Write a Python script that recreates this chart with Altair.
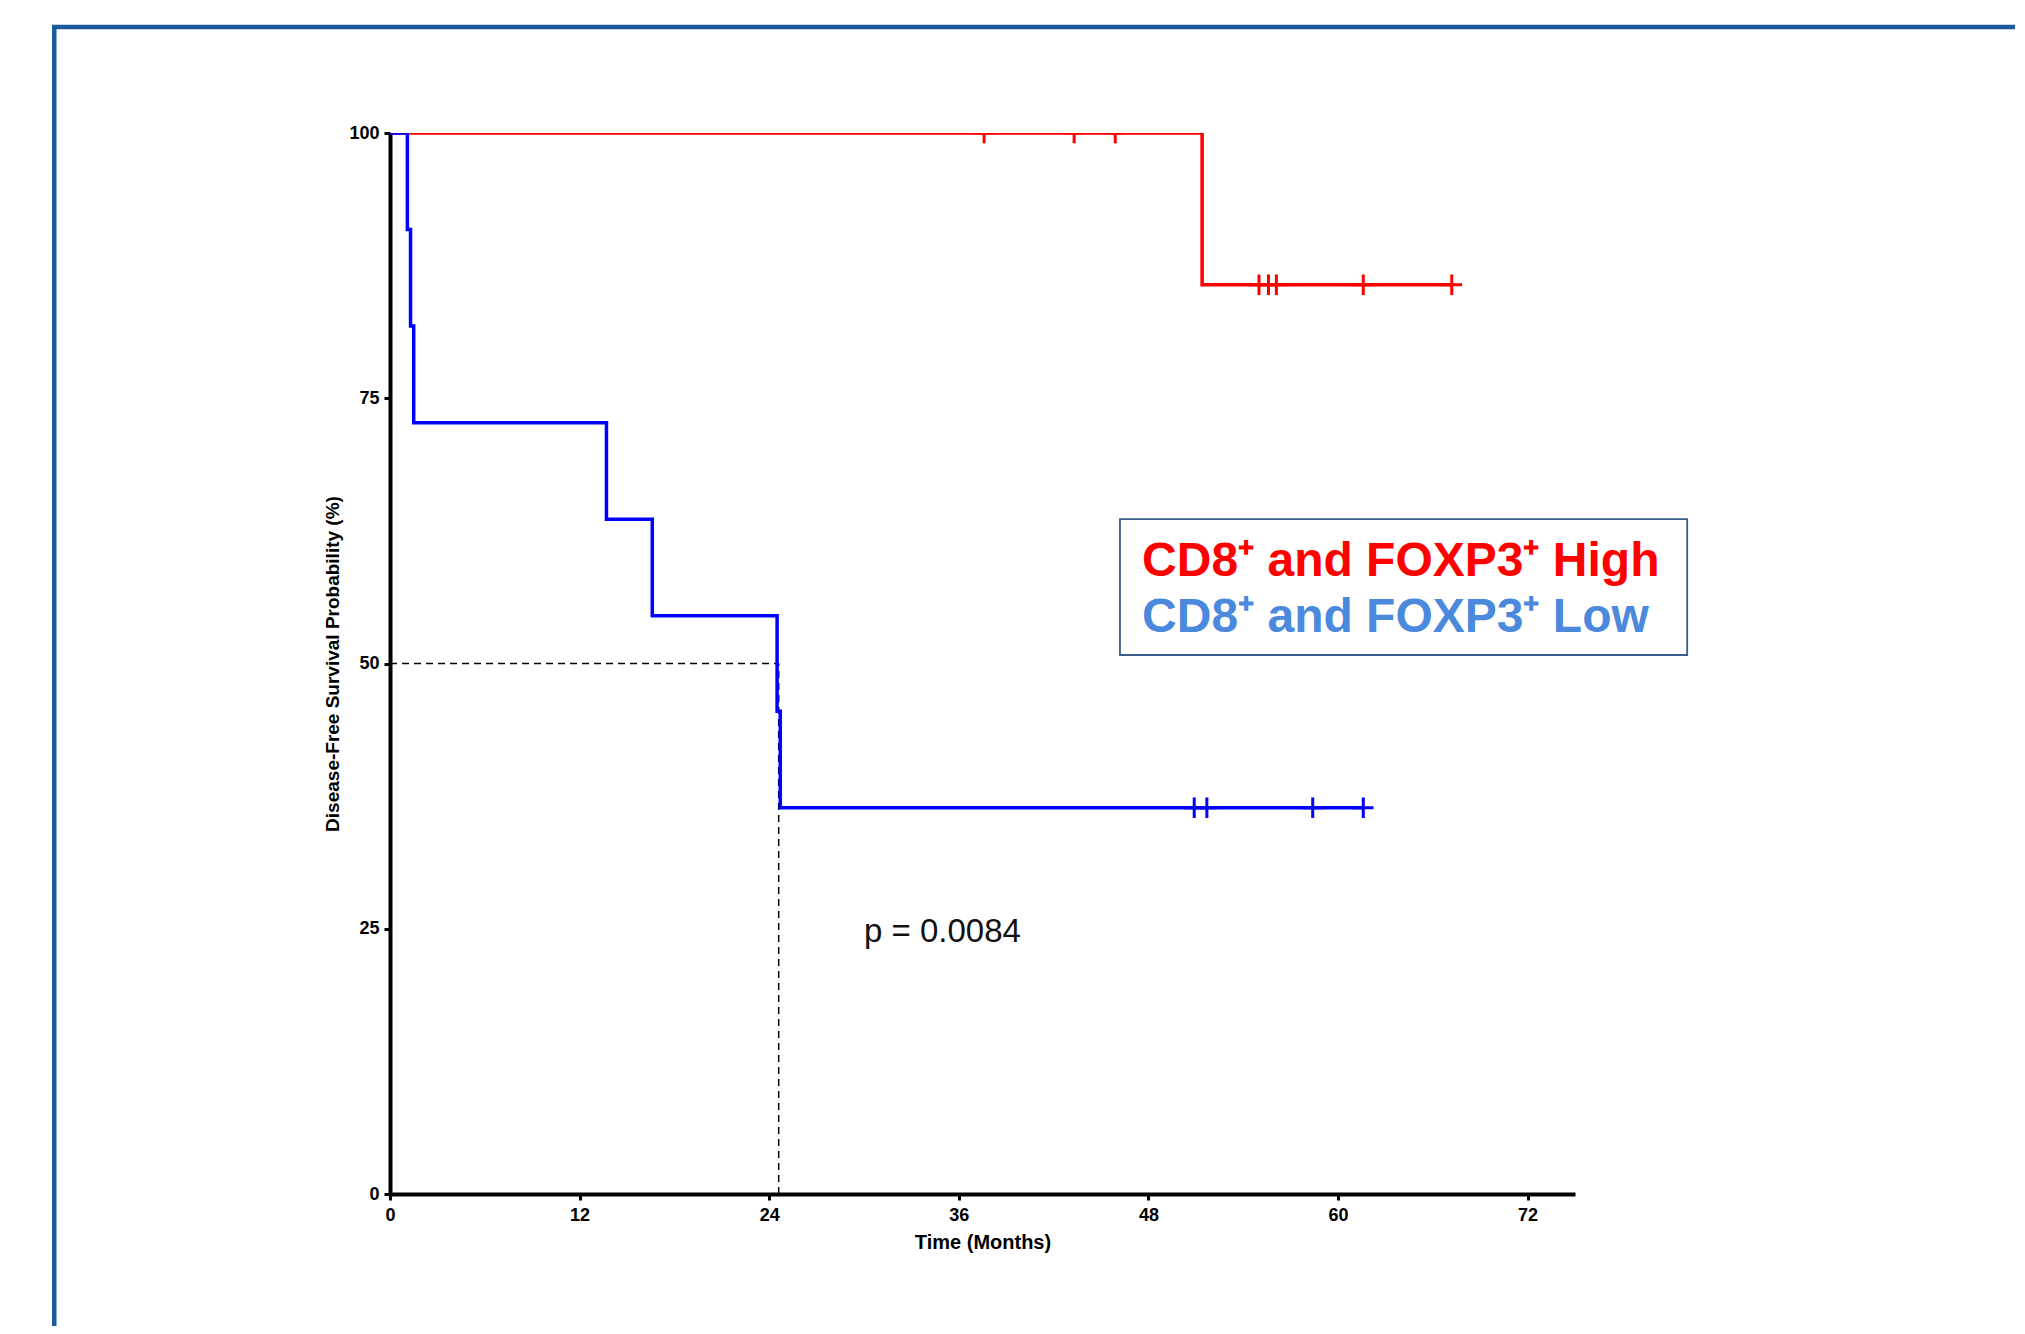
import altair as alt
import pandas as pd

# ---------------- data ----------------
# Kaplan-Meier step curves: event times (months) and survival (%)
high_time = [0, 51.4, 67.2]
high_surv = [100, 85.7, 85.7]
low_time = [0, 1.1, 1.3, 1.5, 13.7, 16.6, 24.5, 24.7, 61.6]
low_surv = [100, 90.9, 81.8, 72.7, 63.6, 54.5, 45.5, 36.4, 36.4]

# censored observations (+ marks)
high_cens_time = [37.6, 43.3, 45.9, 55.0, 55.6, 56.1, 61.6, 67.2]
high_cens_surv = [100, 100, 100, 85.7, 85.7, 85.7, 85.7, 85.7]
low_cens_time = [50.9, 51.7, 58.4, 61.6]
low_cens_surv = [36.4, 36.4, 36.4, 36.4]

# median survival of the Low group
median_time = 24.6
median_surv = 50

x_ticks = [0, 12, 24, 36, 48, 60, 72]
y_ticks = [0, 25, 50, 75, 100]

legend_labels = ["CD8⁺ and FOXP3⁺ High", "CD8⁺ and FOXP3⁺ Low"]
p_label = "p = 0.0084"
x_title = "Time (Months)"
y_title = "Disease-Free Survival Probability (%)"

# ---------------- annotation placement (data units) ----------------
LEGEND_BOX = dict(t=46.2, t2=82.1, s=63.6, s2=50.8)
LEGEND_TEXT_X = 47.6
LEGEND_TEXT_Y = [59.6, 54.3]
P_POS = dict(t=30.0, s=24.7)
FRAME = dict(t=-21.25, t2=200, s=110.0, s2=-30)

# ---------------- styles ----------------
RED = "#ff0000"
BLUE = "#0000ff"
LEGEND_RED = "#ff0000"
LEGEND_BLUE = "#4a89dc"
FRAME_COLOR = "#1a5a9c"
BOX_COLOR = "#385d8a"
FONT = "Liberation Sans"
CROSS = "M-1,0L1,0M0,-1L0,1"

X_SCALE = alt.Scale(domain=[0, 75], nice=False, zero=False)
Y_SCALE = alt.Scale(domain=[0, 100], nice=False, zero=False)

x_axis = alt.Axis(values=x_ticks, title=x_title, grid=False, labelFlush=False,
                  titlePadding=8, labelPadding=6)
y_axis = alt.Axis(values=y_ticks, title=y_title, grid=False, labelFlush=False,
                  titlePadding=6, labelPadding=5)


def X(field="t"):
    return alt.X(f"{field}:Q", scale=X_SCALE, axis=x_axis)


def Y(field="s"):
    return alt.Y(f"{field}:Q", scale=Y_SCALE, axis=y_axis)


high_df = pd.DataFrame({"t": high_time, "s": high_surv})
low_df = pd.DataFrame({"t": low_time, "s": low_surv})
high_c = pd.DataFrame({"t": high_cens_time, "s": high_cens_surv})
low_c = pd.DataFrame({"t": low_cens_time, "s": low_cens_surv})

frame = alt.Chart(pd.DataFrame([FRAME])).mark_rect(
    filled=False, stroke=FRAME_COLOR, strokeWidth=4.5
).encode(x=X("t"), x2="t2:Q", y=Y("s"), y2="s2:Q")

median_df = pd.DataFrame({
    "t": [0, median_time], "t2": [median_time, median_time],
    "s": [median_surv, 0], "s2": [median_surv, median_surv],
})
median_rules = alt.Chart(median_df).mark_rule(
    color="black", strokeWidth=1.5, strokeDash=[7, 5]
).encode(x=X("t"), x2="t2:Q", y=Y("s"), y2="s2:Q")

high_line = alt.Chart(high_df).mark_line(
    interpolate="step-after", color=RED, strokeWidth=3.5, clip=True
).encode(x=X(), y=Y())
low_line = alt.Chart(low_df).mark_line(
    interpolate="step-after", color=BLUE, strokeWidth=3.5, clip=True
).encode(x=X(), y=Y())

high_cross = alt.Chart(high_c).mark_point(
    shape=CROSS, size=420, filled=False, stroke=RED, strokeWidth=3,
    opacity=1, clip=True
).encode(x=X(), y=Y())
low_cross = alt.Chart(low_c).mark_point(
    shape=CROSS, size=420, filled=False, stroke=BLUE, strokeWidth=3,
    opacity=1, clip=True
).encode(x=X(), y=Y())

legend_box = alt.Chart(pd.DataFrame([LEGEND_BOX])).mark_rect(
    filled=False, stroke=BOX_COLOR, strokeWidth=1.8
).encode(x=X("t"), x2="t2:Q", y=Y("s"), y2="s2:Q")

legend_hi = alt.Chart(pd.DataFrame({
    "t": [LEGEND_TEXT_X], "s": [LEGEND_TEXT_Y[0]], "label": [legend_labels[0]]
})).mark_text(
    align="left", baseline="middle", font=FONT, fontWeight="bold",
    fontSize=48, color=LEGEND_RED
).encode(x=X(), y=Y(), text="label:N")

legend_lo = alt.Chart(pd.DataFrame({
    "t": [LEGEND_TEXT_X], "s": [LEGEND_TEXT_Y[1]], "label": [legend_labels[1]]
})).mark_text(
    align="left", baseline="middle", font=FONT, fontWeight="bold",
    fontSize=48, color=LEGEND_BLUE
).encode(x=X(), y=Y(), text="label:N")

p_text = alt.Chart(pd.DataFrame({
    "t": [P_POS["t"]], "s": [P_POS["s"]], "label": [p_label]
})).mark_text(
    align="left", baseline="middle", font=FONT, fontSize=33, color="#111111"
).encode(x=X(), y=Y(), text="label:N")

chart = alt.layer(
    frame, median_rules, high_line, low_line, high_cross, low_cross,
    legend_box, legend_hi, legend_lo, p_text
).properties(
    width=1185, height=1061,
    autosize=alt.AutoSizeParams(type="none"),
    padding={"left": 382, "top": 125, "right": 440, "bottom": 132},
    background="white",
).configure_view(stroke=None).configure_axis(
    domainColor="black", domainWidth=4, tickColor="black", tickWidth=3,
    tickSize=6, labelFont=FONT, labelFontWeight="bold", labelFontSize=18,
    labelColor="black", titleFont=FONT, titleFontWeight="bold",
    titleColor="black"
).configure_axisX(titleFontSize=20).configure_axisY(titleFontSize=19)

chart.save("out.html", embed_options={"renderer": "svg", "actions": False})
